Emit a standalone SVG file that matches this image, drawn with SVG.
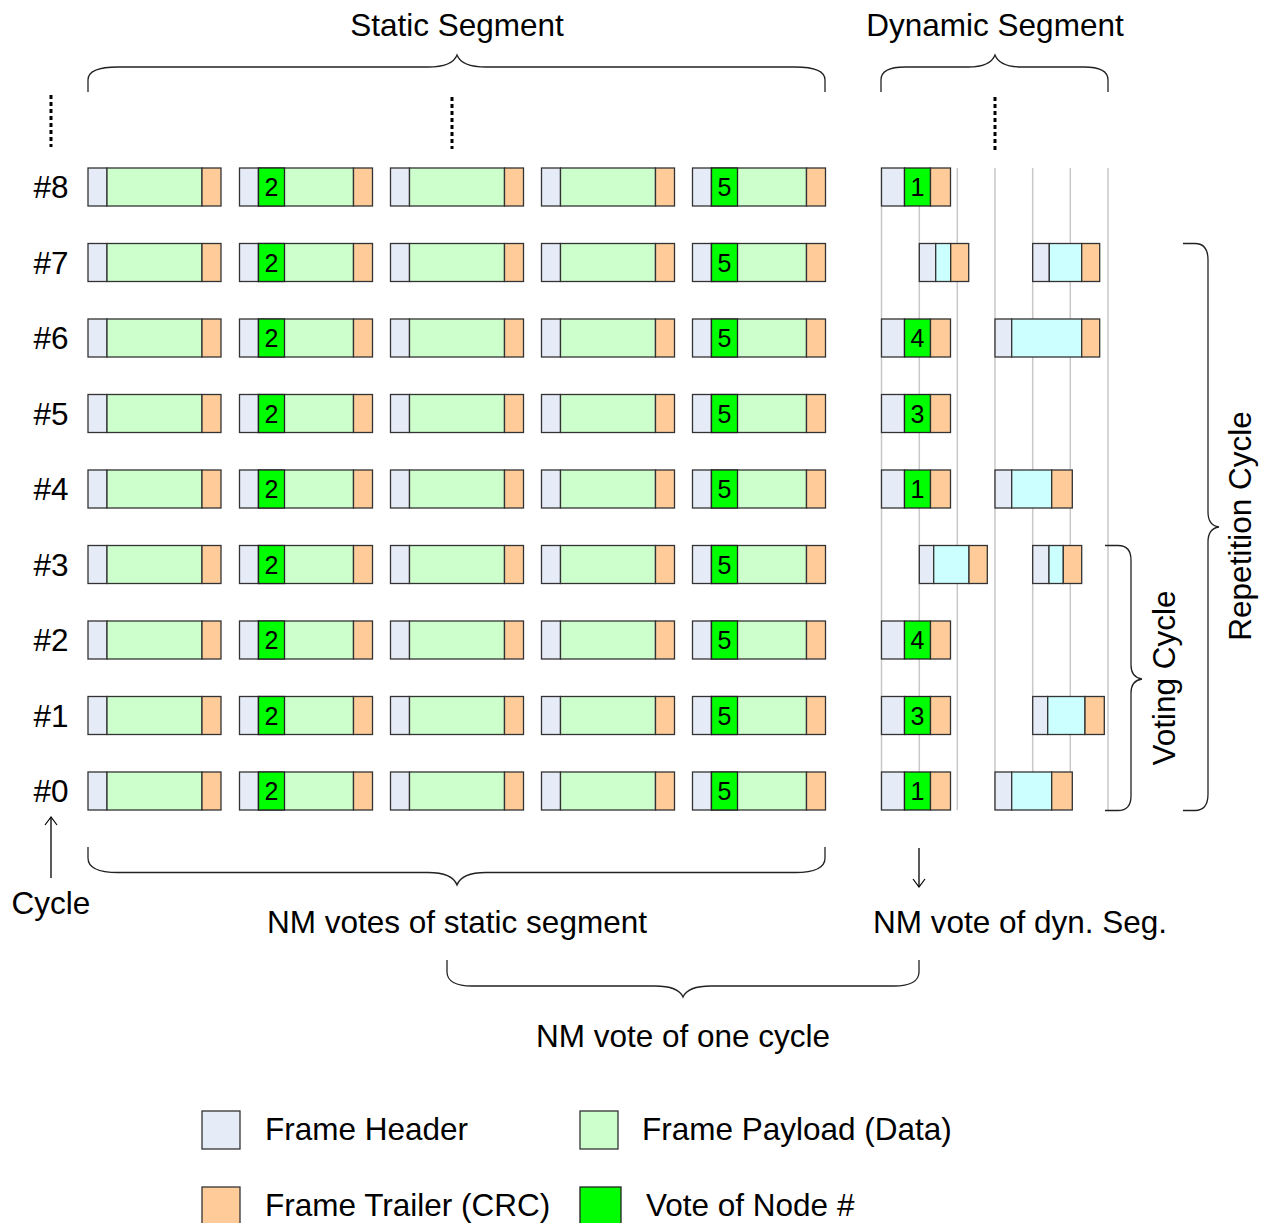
<svg xmlns="http://www.w3.org/2000/svg" xmlns:xlink="http://www.w3.org/1999/xlink" width="1270" height="1223" viewBox="0 0 1270 1223">
<style>
text{font-family:"Liberation Sans",Arial,sans-serif;fill:#000}
.t{font-size:31.5px}
.m{text-anchor:middle}
.n{font-size:25px;text-anchor:middle}
.h{fill:#E6ECF7;stroke:#333;stroke-width:1.3}
.p{fill:#CCFFCC;stroke:#333;stroke-width:1.3}
.c{fill:#CCFFFF;stroke:#333;stroke-width:1.3}
.r{fill:#FFCC99;stroke:#333;stroke-width:1.3}
.v{fill:#00FF00;stroke:#222;stroke-width:1.3}
.g{stroke:#c8c8c8;stroke-width:1.5;fill:none}
.b{fill:none;stroke:#222;stroke-width:1.3}
.d{stroke:#000;stroke-width:3;stroke-dasharray:4 3;fill:none}
.a{stroke:#000;stroke-width:1.3;fill:none}
</style>
<defs>
<g id="sf"><rect class="h" x="0" y="0" width="19" height="38"/><rect class="p" x="19" y="0" width="95" height="38"/><rect class="r" x="114" y="0" width="19" height="38"/></g>
<g id="sv"><rect class="h" x="0" y="0" width="19" height="38"/><rect class="p" x="19" y="0" width="95" height="38"/><rect class="v" x="19" y="0" width="26" height="38"/><rect class="r" x="114" y="0" width="19" height="38"/></g>
<g id="dv"><rect class="h" x="0" y="0" width="23" height="38"/><rect class="v" x="23" y="0" width="26" height="38"/><rect class="r" x="49" y="0" width="20" height="38"/></g>
<marker id="ah" viewBox="0 0 10 14" refX="9" refY="7" markerWidth="10" markerHeight="14" markerUnits="userSpaceOnUse" orient="auto"><path d="M1,1 L9,7 L1,13" fill="none" stroke="#000" stroke-width="1.2"/></marker>
</defs>

<g id="titles">
<text class="t m" x="457" y="36">Static Segment</text>
<text class="t m" x="995" y="36">Dynamic Segment</text>
</g>

<g id="dots">
<line class="d" x1="51" y1="95" x2="51" y2="147"/>
<line class="d" x1="452" y1="97" x2="452" y2="149"/>
<line class="d" x1="995" y1="97" x2="995" y2="151"/>
</g>

<g id="gridlines">
<line class="g" x1="881.5" y1="168" x2="881.5" y2="810"/>
<line class="g" x1="919.3" y1="168" x2="919.3" y2="810"/>
<line class="g" x1="957.3" y1="168" x2="957.3" y2="810"/>
<line class="g" x1="995" y1="168" x2="995" y2="810"/>
<line class="g" x1="1032.7" y1="168" x2="1032.7" y2="810"/>
<line class="g" x1="1070.3" y1="168" x2="1070.3" y2="810"/>
<line class="g" x1="1108" y1="168" x2="1108" y2="810"/>
</g>

<g id="row-labels">
<text class="t m" x="51" y="198">#8</text>
<text class="t m" x="51" y="273.5">#7</text>
<text class="t m" x="51" y="349">#6</text>
<text class="t m" x="51" y="424.5">#5</text>
<text class="t m" x="51" y="500">#4</text>
<text class="t m" x="51" y="575.5">#3</text>
<text class="t m" x="51" y="651">#2</text>
<text class="t m" x="51" y="726.5">#1</text>
<text class="t m" x="51" y="802">#0</text>
</g>

<g id="static-frames">
<g id="s8" transform="translate(0,168)"><use xlink:href="#sf" x="88"/><use xlink:href="#sv" x="239.5"/><use xlink:href="#sf" x="390.5"/><use xlink:href="#sf" x="541.5"/><use xlink:href="#sv" x="692.5"/><text class="n" x="271.5" y="28">2</text><text class="n" x="724.5" y="28">5</text></g>
<g id="s7" transform="translate(0,243.5)"><use xlink:href="#sf" x="88"/><use xlink:href="#sv" x="239.5"/><use xlink:href="#sf" x="390.5"/><use xlink:href="#sf" x="541.5"/><use xlink:href="#sv" x="692.5"/><text class="n" x="271.5" y="28">2</text><text class="n" x="724.5" y="28">5</text></g>
<g id="s6" transform="translate(0,319)"><use xlink:href="#sf" x="88"/><use xlink:href="#sv" x="239.5"/><use xlink:href="#sf" x="390.5"/><use xlink:href="#sf" x="541.5"/><use xlink:href="#sv" x="692.5"/><text class="n" x="271.5" y="28">2</text><text class="n" x="724.5" y="28">5</text></g>
<g id="s5" transform="translate(0,394.5)"><use xlink:href="#sf" x="88"/><use xlink:href="#sv" x="239.5"/><use xlink:href="#sf" x="390.5"/><use xlink:href="#sf" x="541.5"/><use xlink:href="#sv" x="692.5"/><text class="n" x="271.5" y="28">2</text><text class="n" x="724.5" y="28">5</text></g>
<g id="s4" transform="translate(0,470)"><use xlink:href="#sf" x="88"/><use xlink:href="#sv" x="239.5"/><use xlink:href="#sf" x="390.5"/><use xlink:href="#sf" x="541.5"/><use xlink:href="#sv" x="692.5"/><text class="n" x="271.5" y="28">2</text><text class="n" x="724.5" y="28">5</text></g>
<g id="s3" transform="translate(0,545.5)"><use xlink:href="#sf" x="88"/><use xlink:href="#sv" x="239.5"/><use xlink:href="#sf" x="390.5"/><use xlink:href="#sf" x="541.5"/><use xlink:href="#sv" x="692.5"/><text class="n" x="271.5" y="28">2</text><text class="n" x="724.5" y="28">5</text></g>
<g id="s2" transform="translate(0,621)"><use xlink:href="#sf" x="88"/><use xlink:href="#sv" x="239.5"/><use xlink:href="#sf" x="390.5"/><use xlink:href="#sf" x="541.5"/><use xlink:href="#sv" x="692.5"/><text class="n" x="271.5" y="28">2</text><text class="n" x="724.5" y="28">5</text></g>
<g id="s1" transform="translate(0,696.5)"><use xlink:href="#sf" x="88"/><use xlink:href="#sv" x="239.5"/><use xlink:href="#sf" x="390.5"/><use xlink:href="#sf" x="541.5"/><use xlink:href="#sv" x="692.5"/><text class="n" x="271.5" y="28">2</text><text class="n" x="724.5" y="28">5</text></g>
<g id="s0" transform="translate(0,772)"><use xlink:href="#sf" x="88"/><use xlink:href="#sv" x="239.5"/><use xlink:href="#sf" x="390.5"/><use xlink:href="#sf" x="541.5"/><use xlink:href="#sv" x="692.5"/><text class="n" x="271.5" y="28">2</text><text class="n" x="724.5" y="28">5</text></g>
</g>

<g id="dynamic-frames">
<g id="d8" transform="translate(0,168)"><use xlink:href="#dv" x="881.5"/><text class="n" x="917.5" y="28">1</text></g>
<g id="d7" transform="translate(0,243.5)">
<rect class="h" x="919.3" y="0" width="16.4" height="38"/><rect class="c" x="935.7" y="0" width="15" height="38"/><rect class="r" x="950.7" y="0" width="18" height="38"/>
<rect class="h" x="1032.7" y="0" width="16.6" height="38"/><rect class="c" x="1049.3" y="0" width="32.4" height="38"/><rect class="r" x="1081.7" y="0" width="18" height="38"/>
</g>
<g id="d6" transform="translate(0,319)"><use xlink:href="#dv" x="881.5"/><text class="n" x="917.5" y="28">4</text>
<rect class="h" x="995" y="0" width="16.7" height="38"/><rect class="c" x="1011.7" y="0" width="70" height="38"/><rect class="r" x="1081.7" y="0" width="18" height="38"/>
</g>
<g id="d5" transform="translate(0,394.5)"><use xlink:href="#dv" x="881.5"/><text class="n" x="917.5" y="28">3</text></g>
<g id="d4" transform="translate(0,470)"><use xlink:href="#dv" x="881.5"/><text class="n" x="917.5" y="28">1</text>
<rect class="h" x="995" y="0" width="16.7" height="38"/><rect class="c" x="1011.7" y="0" width="40" height="38"/><rect class="r" x="1051.7" y="0" width="20.6" height="38"/>
</g>
<g id="d3" transform="translate(0,545.5)">
<rect class="h" x="919.3" y="0" width="14.4" height="38"/><rect class="c" x="933.7" y="0" width="35.3" height="38"/><rect class="r" x="969" y="0" width="18.3" height="38"/>
<rect class="h" x="1032.7" y="0" width="16.3" height="38"/><rect class="c" x="1049" y="0" width="14.3" height="38"/><rect class="r" x="1063.3" y="0" width="18.4" height="38"/>
</g>
<g id="d2" transform="translate(0,621)"><use xlink:href="#dv" x="881.5"/><text class="n" x="917.5" y="28">4</text></g>
<g id="d1" transform="translate(0,696.5)"><use xlink:href="#dv" x="881.5"/><text class="n" x="917.5" y="28">3</text>
<rect class="h" x="1032.7" y="0" width="15" height="38"/><rect class="c" x="1047.7" y="0" width="37.3" height="38"/><rect class="r" x="1085" y="0" width="19.3" height="38"/>
</g>
<g id="d0" transform="translate(0,772)"><use xlink:href="#dv" x="881.5"/><text class="n" x="917.5" y="28">1</text>
<rect class="h" x="995" y="0" width="16.7" height="38"/><rect class="c" x="1011.7" y="0" width="40" height="38"/><rect class="r" x="1051.7" y="0" width="20.6" height="38"/>
</g>
</g>

<g id="connectors">
<path class="b" d="M88,92 L88,80 C88,71 100,67 118,67 L428,67 C444,67 454,63 457,55 C460,63 470,67 486,67 L795,67 C813,67 825,71 825,80 L825,92"/>
<path class="b" d="M881,92 L881,80 C881,71 890,67 905,67 L968,67 C984,67 992,63 995,55 C998,63 1006,67 1022,67 L1084,67 C1099,67 1108,71 1108,80 L1108,92"/>
<path class="b" d="M88,847 L88,858 C88,868 100,872.5 118,872.5 L428,872.5 C444,872.5 454,877 457,885 C460,877 470,872.5 486,872.5 L795,872.5 C813,872.5 825,868 825,858 L825,847"/>
<path class="b" d="M447,960 L447,972 C447,981 456,986 472,986 L655,986 C671,986 680,990 683,997 C686,990 695,986 711,986 L894,986 C910,986 919,981 919,972 L919,960"/>
<path class="b" d="M1105,545.5 L1118,545.5 C1126,545.5 1131,550 1131,560 L1131,665 C1131,674 1135,678 1142,679 C1135,680 1131,684 1131,693 L1131,796 C1131,806 1126,810.5 1118,810.5 L1105,810.5"/>
<path class="b" d="M1183,243.5 L1195,243.5 C1203,243.5 1208,249 1208,260 L1208,512 C1208,521 1212,526 1219,527 C1212,528 1208,533 1208,542 L1208,794 C1208,805 1203,810.5 1195,810.5 L1183,810.5"/>
<line class="a" x1="51" y1="878" x2="51" y2="817" marker-end="url(#ah)"/>
<line class="a" x1="919" y1="848" x2="919" y2="887" marker-end="url(#ah)"/>
</g>

<g id="labels">
<text class="t m" x="51" y="914">Cycle</text>
<text class="t m" x="457" y="933">NM votes of static segment</text>
<text class="t m" x="1020" y="933">NM vote of dyn. Seg.</text>
<text class="t m" x="683" y="1047">NM vote of one cycle</text>
<text class="t m" transform="translate(1175,678) rotate(-90)">Voting Cycle</text>
<text class="t m" transform="translate(1250.5,526) rotate(-90)">Repetition Cycle</text>
</g>

<g id="legend">
<rect class="h" x="202" y="1111" width="38" height="38"/>
<text class="t" x="265" y="1140">Frame Header</text>
<rect class="p" x="580" y="1111" width="38" height="38"/>
<text class="t" x="642" y="1140">Frame Payload (Data)</text>
<rect class="r" x="202" y="1187" width="38" height="40"/>
<text class="t" x="265" y="1216">Frame Trailer (CRC)</text>
<rect class="v" x="580" y="1187" width="41" height="40"/>
<text class="t" x="646" y="1216">Vote of Node #</text>
</g>
</svg>
